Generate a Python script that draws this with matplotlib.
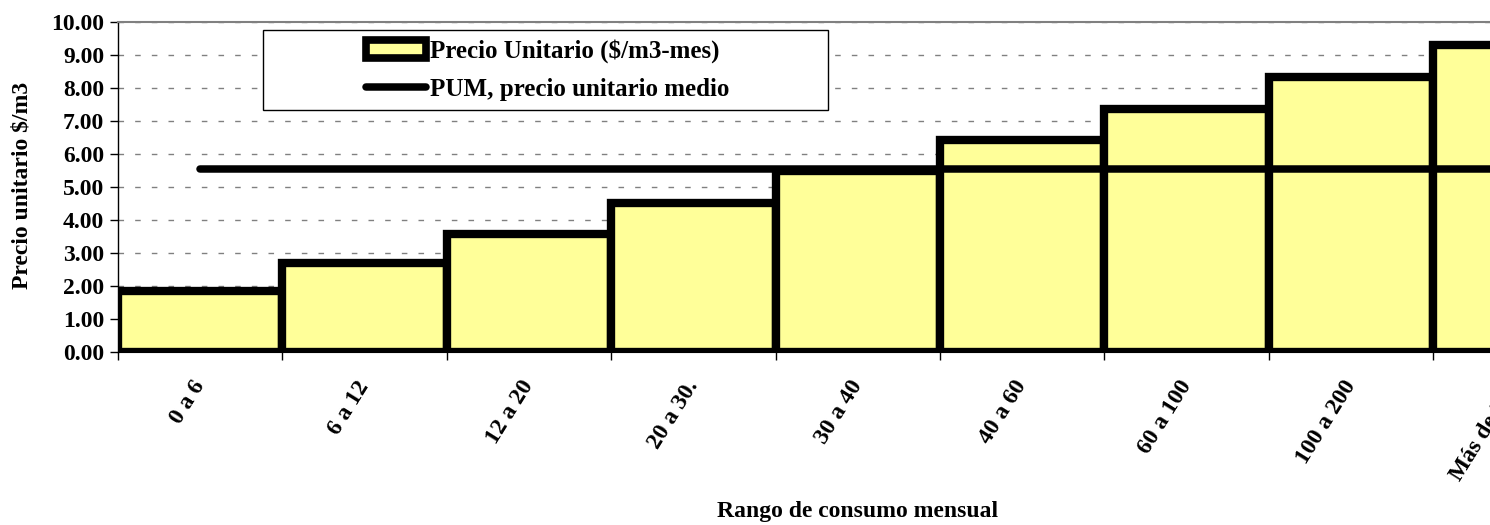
import matplotlib
matplotlib.use("Agg")
import matplotlib.pyplot as plt
from matplotlib.patches import Rectangle, Patch
from matplotlib.lines import Line2D
import numpy as np

categories = ["0 a 6", "6 a 12", "12 a 20", "20 a 30.", "30 a 40",
              "40 a 60", "60 a 100", "100 a 200", "Más de 200"]
precio_unitario = [1.85, 2.70, 3.58, 4.52, 5.50, 6.41, 7.35, 8.33, 9.29]
pum_value = 5.55
y_ticks = [0, 1, 2, 3, 4, 5, 6, 7, 8, 9, 10]

plt.rcParams["font.family"] = ["Liberation Serif", "DejaVu Serif"]
plt.rcParams["font.weight"] = "bold"

W, H = 1490, 525
FS = 17
fig = plt.figure(figsize=(W / 100, H / 100), dpi=100)
left, right, top, bottom = 118, 118 + 9 * 164.4, 22, 352
ax = fig.add_axes([left / W, 1 - bottom / H, (right - left) / W, (bottom - top) / H])

x = np.arange(len(categories))
ax.bar(x, precio_unitario, width=1.0, color="#FFFF99", edgecolor="black",
       linewidth=6.0, zorder=2)
ax.plot(x, [pum_value] * len(x), color="black", linewidth=5.4,
        solid_capstyle="round", zorder=3)

ax.set_xlim(-0.5, len(categories) - 0.5)
ax.set_ylim(0, 10)
ax.set_yticks(y_ticks)
ax.set_yticklabels([f"{v:.2f}" for v in y_ticks], fontsize=FS, fontweight="bold")
ax.yaxis.grid(True, linestyle=(0, (4, 8)), color="#808080", linewidth=1.0, zorder=0)
ax.set_axisbelow(True)

ax.set_xticks(x)
ax.set_xticklabels(categories, rotation=58, ha="right", va="center",
                   rotation_mode="anchor", fontsize=FS, fontweight="bold")
ax.tick_params(axis="x", which="major", length=0, pad=22)
ax.set_xticks(np.arange(-0.5, len(categories)), minor=True)
ax.tick_params(axis="x", which="minor", length=6, color="black", width=1)
ax.tick_params(axis="y", length=6, width=1, color="black", pad=4)

ax.spines["top"].set_color("#808080")
ax.spines["top"].set_linewidth(1.5)
ax.spines["left"].set_color("black")
ax.spines["left"].set_linewidth(1.0)
ax.spines["right"].set_visible(False)
ax.spines["bottom"].set_color("black")

fig.text(22 / W, 1 - 185 / H, "Precio unitario $/m3", rotation=90, ha="center",
         va="center", fontsize=FS, fontweight="bold")
fig.text(858 / W, 1 - 512 / H, "Rango de consumo mensual", ha="center",
         va="center", fontsize=FS, fontweight="bold")

# legend box
fig.patches.append(Rectangle((263 / W, 1 - 110 / H), (828 - 263) / W, 80 / H,
                             transform=fig.transFigure, facecolor="white",
                             edgecolor="black", linewidth=1.0, zorder=5))
handles = [Patch(facecolor="#FFFF99", edgecolor="black", linewidth=5.5),
           Line2D([0], [0], color="black", linewidth=5.4, solid_capstyle="round")]
labels = ["Precio Unitario ($/m3-mes)", "PUM, precio unitario medio"]
leg = fig.legend(handles, labels, loc="center",
                 bbox_to_anchor=(548 / W, 1 - 70 / H), frameon=False,
                 prop={"size": 18, "weight": "bold"}, handlelength=2.4,
                 handleheight=0.7, handletextpad=0.15, labelspacing=0.6)
leg.set_zorder(6)

fig.savefig("out.png", dpi=100)
